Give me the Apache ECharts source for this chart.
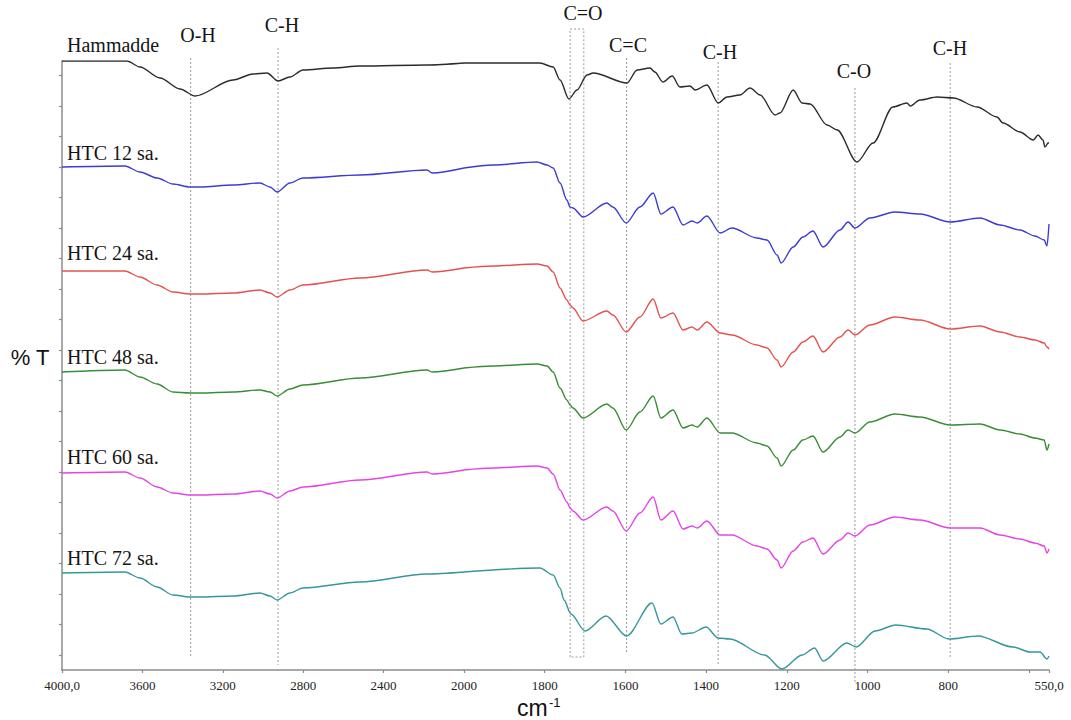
<!DOCTYPE html>
<html><head><meta charset="utf-8">
<script src="https://cdn.jsdelivr.net/npm/echarts@6/dist/echarts.min.js"></script>
<style>html,body{margin:0;padding:0;background:#fff}#c{width:1071px;height:720px}</style>
</head><body><div id="c"></div>
<script>
// ---- data (offset %T, arbitrary units) ----
const hammaddeWn = [4000,3677,3612,3512,3413,3338,3149,3050,2980,2925,2866,2801,2652,2517,2184,2000,1903,1812,1779,1762,1740,1720,1695,1680,1596,1571,1539,1527,1507,1484,1465,1440,1427,1398,1370,1348,1316,1291,1266,1229,1217,1184,1162,1142,1100,1075,1026,986,937,902,894,870,827,787,728,679,664,622,589,577,565,560,552,550];
const hammadde   = [609,609,603,592,581,574,590,596,597,589,593,600,602,604,605,607,607,607,603,590,571,580,595,597,587,600,602,598,588,594,583,584,580,585,567,573,575,582,575,555,557,580,567,566,545,540,508,527,563,567,564,570,573,572,563,553,547,538,530,535,530,523,527,527];

const wavenumbers = [4000,3687,3612,3527,3448,3363,3313,3149,3015,2965,2930,2866,2801,2517,2184,2159,2000,1928,1819,1794,1779,1762,1745,1737,1730,1705,1646,1631,1598,1564,1531,1512,1482,1457,1435,1422,1398,1365,1336,1274,1249,1224,1214,1184,1160,1135,1110,1068,1048,1031,994,932,870,795,721,671,622,585,562,555,550];
const htc12 = [503,504,498,492,486,483,483,485,487,483,478,487,492,495,500,497,502,505,508,505,502,487,470,463,462,453,467,463,447,463,477,456,463,445,449,447,454,437,442,432,430,415,407,423,433,439,423,440,448,442,452,458,456,448,452,445,440,434,430,424,446];
const htc24 = [399,399,393,385,378,376,376,377,380,377,373,380,385,392,400,398,402,404,406,404,398,382,370,365,362,349,359,355,338,353,371,352,357,340,343,340,348,337,335,325,322,310,303,318,328,334,318,333,340,335,345,353,350,341,344,338,333,330,327,323,321];
const htc48 = [298,300,293,286,278,277,277,278,280,278,274,281,285,292,300,298,302,304,306,304,298,282,270,265,262,252,266,262,240,258,274,252,260,242,245,243,252,237,237,227,224,212,204,220,230,234,218,233,240,237,248,256,253,245,246,240,236,232,230,220,226];
const htc60 = [197,198,192,183,177,175,175,176,179,176,172,179,183,190,198,196,200,202,204,202,196,180,168,162,159,150,163,159,139,157,173,150,159,141,144,142,149,135,135,124,121,110,102,119,128,132,116,130,137,134,145,153,150,142,142,135,131,127,124,117,121];

const htc72Wn = [4000,3687,3612,3527,3448,3363,3313,3149,3015,2965,2930,2866,2801,2517,2184,2000,1812,1779,1762,1752,1735,1700,1648,1597,1534,1512,1482,1460,1435,1400,1370,1341,1255,1212,1162,1131,1110,1051,1028,981,930,853,798,726,640,597,572,555,550];
const htc72   = [97,98,92,83,75,73,73,74,77,74,70,77,82,88,96,98,102,95,82,70,56,39,54,34,67,46,53,36,37,43,32,31,15,1,15,22,9,27,23,39,45,41,31,34,23,18,18,11,14];

const seriesNames = ['Hammadde','HTC 12 sa.','HTC 24 sa.','HTC 48 sa.','HTC 60 sa.','HTC 72 sa.'];
const xTicksHigh = [4000,3600,3200,2800,2400,2000];
const xLabelsLow = [1800,1600,1400,1200,1000,800,550];
const xTicksLow  = [1800,1600,1400,1200,1000,800,600,550];
const yTicks = [595,564,534,503,473,442,412,381,351,320,290,259,229,198,168,137,107,76,46,15];

// peak annotation lines: [wavenumber, top value, bottom value]
const peakLines = [[3360,612,12],[2925,622,5],[1597,612,17],[1370,608,5],[1031,582,-14],[795,607,11]];
const coBox = [[1737,13],[1737,641],[1703,641],[1703,13],[1737,13]];
const peakLabels = ['O-H','C-H','C=O','C=C','C-H','C-O','C-H'];

// ---- chart ----
const chart = echarts.init(document.getElementById('c'), null, {renderer:'svg', width:1071, height:720});
const curves = [
  {wn: hammaddeWn, v: hammadde, color:'#2b2b2b'},
  {wn: wavenumbers, v: htc12, color:'#3c3cd2'},
  {wn: wavenumbers, v: htc24, color:'#e4524f'},
  {wn: wavenumbers, v: htc48, color:'#3a8c36'},
  {wn: wavenumbers, v: htc60, color:'#e444e4'},
  {wn: htc72Wn, v: htc72, color:'#35979a'}
];
function part(wn, v, high){
  const out=[];
  for(let i=0;i<wn.length;i++){ if(high ? wn[i]>=2000 : wn[i]<=2000) out.push([wn[i], v[i]]); }
  return out;
}
const series=[];
curves.forEach((c,k)=>{
  [true,false].forEach((hi)=>{
    series.push({type:'line', name:seriesNames[k], xAxisIndex:hi?0:1, yAxisIndex:hi?0:1,
      data:part(c.wn,c.v,hi), symbol:'none', smooth:0.3, smoothMonotone:'x', silent:true, animation:false,
      lineStyle:{color:c.color, width:1.4}});
  });
});
const dotStyle = {color:'#9a9a9a', width:1, type:[2,2]};
peakLines.forEach(p=>{
  const hi = p[0] > 2000;
  series.push({type:'line', xAxisIndex:hi?0:1, yAxisIndex:hi?0:1, clip:false, symbol:'none', silent:true, animation:false,
    data:[[p[0],p[1]],[p[0],p[2]]], lineStyle:dotStyle, z:1});
});
series.push({type:'line', xAxisIndex:1, yAxisIndex:1, clip:false, symbol:'none', silent:true, animation:false,
  data:coBox, lineStyle:dotStyle, z:1});

const axisColor = '#8c8c8c';
const serif = '"Liberation Serif", "Times New Roman", serif';
function fmt(v){ return v===4000 ? '4000,0' : (v===550 ? '550,0' : String(v)); }

const peakPos = [[198,35],[282,25],[583,13],[628,45],[720,52],[854,71],[950,48]];
const labelY = [45,153,253,357,457,558];
const graphic = [];
peakLabels.forEach((t,i)=>graphic.push({type:'text', x:peakPos[i][0], y:peakPos[i][1],
  style:{text:t, font:'20px '+serif, fill:'#151515', align:'center', verticalAlign:'middle'}}));
seriesNames.forEach((t,i)=>graphic.push({type:'text', x:67, y:labelY[i],
  style:{text:t, font:'20px '+serif, fill:'#151515', align:'left', verticalAlign:'middle'}}));
graphic.push({type:'text', x:30, y:357, style:{text:'% T', font:'22px "Liberation Sans", Arial, sans-serif', fill:'#111', align:'center', verticalAlign:'middle'}});
graphic.push({type:'text', x:517, y:708, style:{text:'cm', font:'23px "Liberation Sans", Arial, sans-serif', fill:'#111', align:'left', verticalAlign:'middle'}});
graphic.push({type:'text', x:549, y:702, style:{text:'-1', font:'13px "Liberation Sans", Arial, sans-serif', fill:'#111', align:'left', verticalAlign:'middle'}});

const option = {
  backgroundColor:'#ffffff',
  animation:false,
  grid:[
    {left:62, width:402, top:61, height:609},
    {left:464, width:585, top:61, height:609}
  ],
  xAxis:[
    {type:'value', gridIndex:0, min:2000, max:4000, inverse:true,
     axisLine:{show:true, lineStyle:{color:axisColor, width:1.5}},
     axisTick:{show:true, inside:false, length:3, lineStyle:{color:axisColor, width:1.2}, customValues:xTicksHigh},
     axisLabel:{show:true, margin:9, color:'#222', fontFamily:serif, fontSize:13, formatter:fmt, customValues:xTicksHigh, showMinLabel:true, showMaxLabel:true},
     splitLine:{show:false}},
    {type:'value', gridIndex:1, min:550, max:2000, inverse:true,
     axisLine:{show:true, lineStyle:{color:axisColor, width:1.5}},
     axisTick:{show:true, inside:false, length:3, lineStyle:{color:axisColor, width:1.2}, customValues:xTicksLow},
     axisLabel:{show:true, margin:9, color:'#222', fontFamily:serif, fontSize:13, formatter:fmt, customValues:xLabelsLow, showMinLabel:true, showMaxLabel:true},
     splitLine:{show:false}}
  ],
  yAxis:[
    {type:'value', gridIndex:0, min:0, max:609,
     axisLine:{show:true, lineStyle:{color:axisColor, width:1.5}},
     axisTick:{show:true, inside:false, length:3, lineStyle:{color:axisColor, width:1.2}, customValues:yTicks},
     axisLabel:{show:false}, splitLine:{show:false}},
    {type:'value', gridIndex:1, min:0, max:609, show:false, splitLine:{show:false}}
  ],
  series:series,
  graphic:graphic
};
chart.setOption(option);
</script>
</body></html>
